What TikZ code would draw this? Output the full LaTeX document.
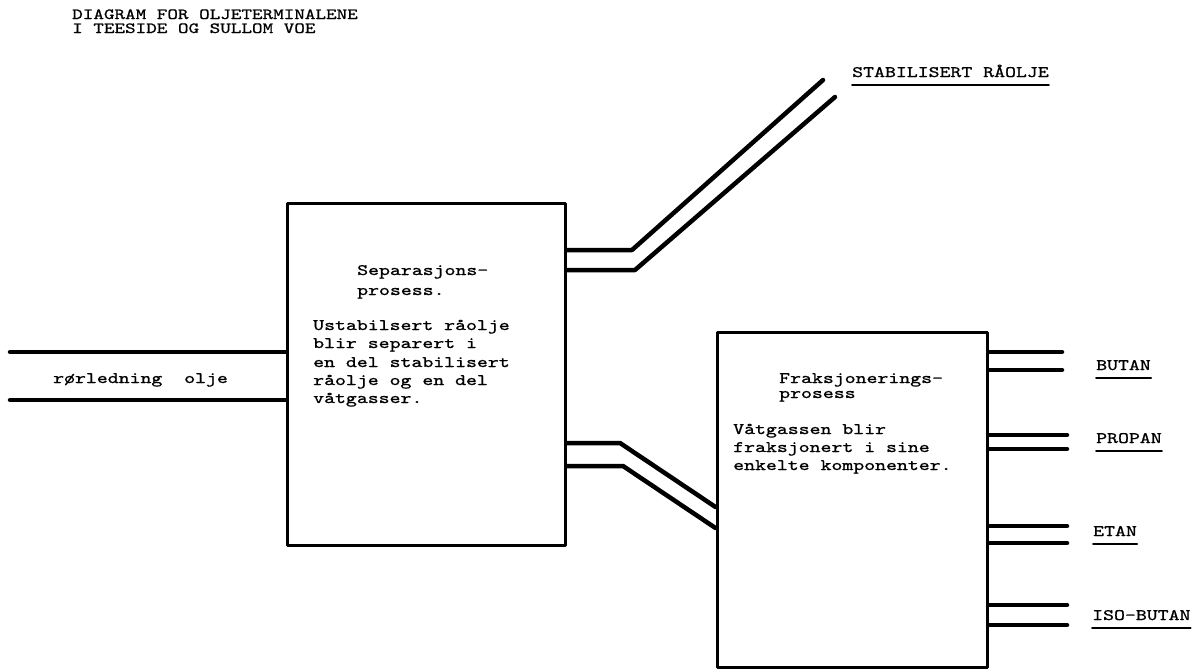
\documentclass[tikz,border=0pt]{standalone}
\usepackage{fontspec}
\newfontfamily\tw[FakeStretch=1.3,FakeBold=1]{lmmono10-regular.otf}
\begin{document}
\begin{tikzpicture}[x=1pt,y=-1pt,
  procbox/.style={draw,line width=3pt,rectangle,inner sep=0pt,line join=round},
  pipe/.style={line width=4.5pt,line cap=round,line join=round},
  txt/.style={anchor=base west,inner sep=0pt,font=\tw\fontsize{16}{18}\selectfont},
  ttl/.style={anchor=base west,inner sep=0pt,font=\tw\fontsize{15.5}{14}\selectfont},
  uline/.style={line width=2pt,line cap=round}]
\useasboundingbox (0,0) rectangle (1201,670);
% title
\node[ttl] (t1) at (72,19) {DIAGRAM FOR OLJETERMINALENE};
\node[ttl] (t2) at (72,33) {I TEESIDE OG SULLOM VOE};
% boxes
\node[procbox,minimum width=278pt,minimum height=342pt] (sep) at (426,374) {};
\node[procbox,minimum width=270pt,minimum height=335pt] (frak) at (852,499.5) {};
% box texts
\node[txt] (s1) at (357,275) {Separasjons-};
\node[txt] (s2) at (357,295) {prosess.};
\node[txt] (s3) at (313,330) {Ustabilsert råolje};
\node[txt] (s4) at (313,348) {blir separert i};
\node[txt] (s5) at (313,367) {en del stabilisert};
\node[txt] (s6) at (313,385) {råolje og en del};
\node[txt] (s7) at (313,403) {våtgasser.};
\node[txt] (f1) at (779,383) {Fraksjonerings-};
\node[txt] (f2) at (779,398) {prosess};
\node[txt] (f3) at (733,434) {Våtgassen blir};
\node[txt] (f4) at (733,452) {fraksjonert i sine};
\node[txt] (f5) at (733,470) {enkelte komponenter.};
% inlet pipe
\coordinate (in1) at (10,352);
\coordinate (in2) at (10,400);
\draw[pipe] (in1) -- (sep.west |- in1);
\draw[pipe] (in2) -- (sep.west |- in2);
\node[txt] (rl) at (53,383) {rørledning\ \ olje};
% stabilised crude outlet
\coordinate (so1) at (823,80);
\coordinate (so2) at (835,97);
\draw[pipe] (sep.east |- 0,250) -- (632,250) -- (so1);
\draw[pipe] (sep.east |- 0,270) -- (635,270) -- (so2);
\node[txt] (lstab) at (852,77) {STABILISERT RÅOLJE};
\draw[uline] ([yshift=-8pt]lstab.base west) -- ([yshift=-8pt]lstab.base east);
% wet gas pipe
\draw[pipe] (sep.east |- 0,443) -- (620,443) -- (frak.west |- 0,507);
\draw[pipe] (sep.east |- 0,466) -- (623,466) -- (frak.west |- 0,528);
% outputs
\coordinate (b1) at (1062,352); \coordinate (b2) at (1062,370);
\coordinate (p1) at (1067,435); \coordinate (p2) at (1067,449);
\coordinate (e1) at (1067,526); \coordinate (e2) at (1067,543);
\coordinate (i1) at (1067,605); \coordinate (i2) at (1067,625);
\foreach \c in {b1,b2,p1,p2,e1,e2,i1,i2}
  \draw[pipe] (frak.east |- \c) -- (\c);
\node[txt] (lbut) at (1096,370) {BUTAN};
\node[txt] (lpro) at (1096,443) {PROPAN};
\node[txt] (leta) at (1093,536) {ETAN};
\node[txt] (liso) at (1092,620) {ISO-BUTAN};
\foreach \l in {lbut,lpro,leta,liso}
  \draw[uline] ([yshift=-8pt]\l.base west) -- ([yshift=-8pt]\l.base east);
\end{tikzpicture}
\end{document}
